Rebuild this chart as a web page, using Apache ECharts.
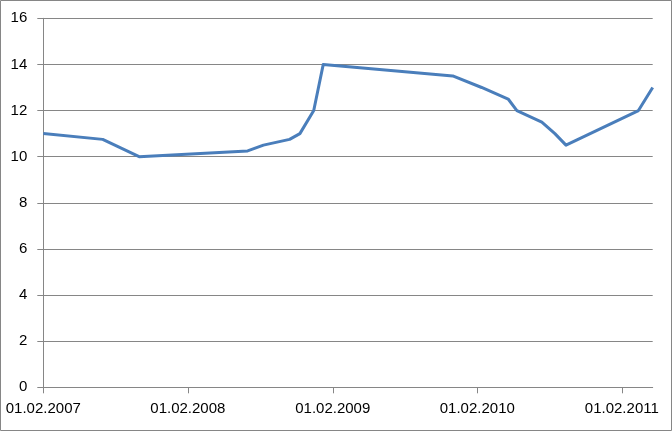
<!DOCTYPE html>
<html>
<head>
<meta charset="utf-8">
<script src="https://cdn.jsdelivr.net/npm/echarts@6/dist/echarts.min.js"></script>
<style>
html,body{margin:0;padding:0;background:#fff;}
#chart{width:672px;height:431px;}
</style>
</head>
<body>
<div id="chart"></div>
<script>
// Data
const dates = ['2007-02-01','2007-07-01','2007-10-01','2008-07-01','2008-08-10','2008-10-15','2008-11-10','2008-12-15','2009-01-08','2009-12-01','2010-02-12','2010-04-20','2010-05-12','2010-07-14','2010-08-16','2010-09-13','2011-03-15','2011-04-20'];
const values = [11, 10.75, 10, 10.25, 10.5, 10.75, 11, 12, 14, 13.5, 13, 12.5, 12, 11.5, 11, 10.5, 12, 13];
const tickDates = ['2007-02-01','2008-02-01','2009-02-01','2010-02-01','2011-02-01'];
const tickLabels = ['01.02.2007','01.02.2008','01.02.2009','01.02.2010','01.02.2011'];
const axisStart = '2007-02-01';
const axisEnd = '2011-04-20';

function dayIndex(s) {
  const p = s.split('-').map(Number);
  const q = axisStart.split('-').map(Number);
  return Math.round((Date.UTC(p[0], p[1]-1, p[2]) - Date.UTC(q[0], q[1]-1, q[2])) / 86400000);
}
const tickDays = tickDates.map(dayIndex);
const labelMap = {};
tickDays.forEach((d, i) => { labelMap[d] = tickLabels[i]; });
const seriesData = dates.map((d, i) => [dayIndex(d), values[i]]);

const chart = echarts.init(document.getElementById('chart'), null, {renderer: 'canvas'});
const gray = '#868686';
const font = 'Liberation Sans, Arial, sans-serif';
chart.setOption({
  animation: false,
  backgroundColor: '#fff',
  grid: {left: 43.3, right: 19.3, top: 18.3, bottom: 43.7, containLabel: false},
  xAxis: {
    type: 'value',
    min: 0,
    max: dayIndex(axisEnd),
    splitLine: {show: false},
    axisLine: {show: true, lineStyle: {color: gray, width: 1}},
    axisTick: {show: true, length: 6, customValues: tickDays, lineStyle: {color: gray}},
    axisLabel: {
      customValues: tickDays,
      margin: 14,
      color: '#000',
      fontSize: 15,
      fontFamily: font,
      formatter: v => labelMap[v] || ''
    }
  },
  yAxis: {
    type: 'value',
    min: 0,
    max: 16,
    interval: 2,
    splitLine: {show: true, lineStyle: {color: gray, width: 1}},
    axisLine: {show: true, lineStyle: {color: gray, width: 1}},
    axisTick: {show: true, length: 6, lineStyle: {color: gray}},
    axisLabel: {margin: 16, color: '#000', fontSize: 15, fontFamily: font}
  },
  series: [{
    type: 'line',
    data: seriesData,
    showSymbol: false,
    symbol: 'none',
    smooth: false,
    lineStyle: {color: '#4a7ebb', width: 3, join: 'round'},
    itemStyle: {color: '#4a7ebb'}
  }],
  graphic: [{
    type: 'rect',
    shape: {x: 0.5, y: 0.5, width: 671, height: 430},
    style: {fill: 'none', stroke: gray, lineWidth: 1},
    silent: true,
    z: 100
  }]
});
</script>
</body>
</html>
